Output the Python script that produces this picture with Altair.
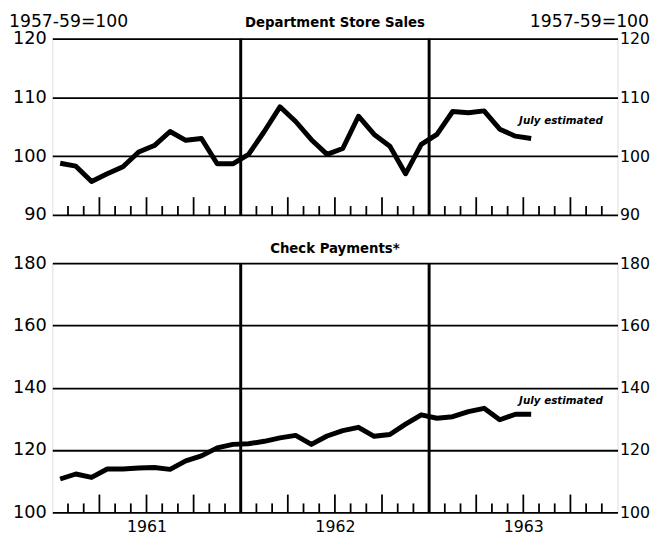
import altair as alt
import pandas as pd

# ---- data (monthly, Jan 1961 .. Jul 1963) ----
years = ["1961", "1962", "1963"]
dept_store = [98.8, 98.3, 95.7, 97.0, 98.2, 100.7, 101.8, 104.2, 102.7, 103.0, 98.7, 98.7,
              100.3, 104.2, 108.4, 105.9, 102.8, 100.3, 101.3, 106.8, 103.7, 101.7, 97.0, 102.0,
              103.7, 107.6, 107.4, 107.7, 104.6, 103.4, 103.0]
check_pay = [110.7, 112.3, 111.2, 113.9, 113.9, 114.2, 114.4, 113.8, 116.5, 118.1, 120.7, 121.8,
             122.0, 122.8, 123.9, 124.7, 121.8, 124.5, 126.2, 127.3, 124.4, 125.0, 128.3, 131.3,
             130.2, 130.7, 132.3, 133.4, 129.7, 131.5, 131.5]
top_ticks = [90, 100, 110, 120]
bottom_ticks = [100, 120, 140, 160, 180]
note_text = "July estimated"
note_top = (32.4, 105.9)
note_bottom = (32.4, 135.6)
base_label = "1957-59=100"
titles = ["Department Store Sales", "Check Payments*"]

FONT = "DejaVu Sans"
TITLE_FONT = "'DejaVu Sans Condensed', 'Liberation Sans Narrow', 'Roboto Condensed', 'Arial Narrow', 'DejaVu Sans', sans-serif"
W = 574

n_months = len(years) * 12
year_bounds = pd.DataFrame({"m": [12 * i for i in range(1, len(years))]})
small_ticks = pd.DataFrame({"m": [k for k in range(1, n_months) if k % 12 and k % 3]})
tall_ticks = pd.DataFrame({"m": [k for k in range(1, n_months) if k % 12 and k % 3 == 0]})
year_label_expr = " : ".join(
    f"datum.value == {12 * i + 6} ? '{y}'" for i, y in enumerate(years)
) + " : ''"

xscale = alt.Scale(domain=[0, n_months], nice=False, zero=False)


def panel(values, yticks, height, title, show_years, note, show_base, title_y):
    df = pd.DataFrame({"m": [i + 0.5 for i in range(len(values))], "v": values})
    yscale = alt.Scale(domain=[yticks[0], yticks[-1]], nice=False, zero=False)
    if show_years:
        xaxis = alt.Axis(values=[12 * i + 6 for i in range(len(years))], labelExpr=year_label_expr,
                         ticks=False, domain=False, grid=False, title=None, labelPadding=7,
                         labelFontSize=16, labelFont=FONT, labelColor="black", labelFlush=False)
    else:
        xaxis = None
    left_axis = alt.Axis(values=yticks, ticks=False, domain=False, grid=True, gridColor="black",
                         gridWidth=1.8, gridOpacity=1, labelPadding=6, labelFontSize=18,
                         labelFont=FONT, labelColor="black", title=None)
    right_axis = alt.Axis(orient="right", values=yticks, ticks=False, domain=False, grid=False,
                          labelPadding=2, labelFontSize=16, labelFont=FONT, labelColor="black",
                          title=None)

    line = alt.Chart(df).mark_line(color="black", strokeWidth=5, strokeJoin="round").encode(
        x=alt.X("m:Q", scale=xscale, axis=xaxis),
        y=alt.Y("v:Q", scale=yscale, axis=left_axis),
    )
    years_rule = alt.Chart(year_bounds).mark_rule(color="black", strokeWidth=3).encode(
        x=alt.X("m:Q", scale=xscale)
    )
    st = alt.Chart(small_ticks).mark_rule(color="black", strokeWidth=1.8).encode(
        x=alt.X("m:Q", scale=xscale), y=alt.value(height), y2=alt.value(height - 9)
    )
    tt = alt.Chart(tall_ticks).mark_rule(color="black", strokeWidth=1.8).encode(
        x=alt.X("m:Q", scale=xscale), y=alt.value(height), y2=alt.value(height - 18)
    )
    ndf = pd.DataFrame({"m": [note[0]], "v": [note[1]], "t": [note_text]})
    txt = alt.Chart(ndf).mark_text(font=FONT, fontSize=10.5, fontStyle="italic", fontWeight="bold",
                                   color="black").encode(
        x=alt.X("m:Q", scale=xscale),
        y=alt.Y("v:Q", scale=yscale, axis=right_axis),
        text="t:N",
    )
    ttl = alt.Chart(pd.DataFrame({"t": [title]})).mark_text(
        font=TITLE_FONT, fontSize=15, fontWeight="bold", color="black", baseline="middle"
    ).encode(x=alt.value(W / 2), y=alt.value(title_y), text="t:N")
    layers = [line, years_rule, st, tt, txt, ttl]
    if show_base:
        bdf = pd.DataFrame({"t": [base_label]})
        bl = alt.Chart(bdf).mark_text(font=FONT, fontSize=17.5, color="black", align="left",
                                      baseline="middle").encode(
            x=alt.value(-44), y=alt.value(title_y), text="t:N")
        br = alt.Chart(bdf).mark_text(font=FONT, fontSize=17.5, color="black", align="right",
                                      baseline="middle").encode(
            x=alt.value(W + 32), y=alt.value(title_y), text="t:N")
        layers += [bl, br]
    return alt.layer(*layers).resolve_axis(y="independent").properties(width=W, height=height)


top = panel(dept_store, top_ticks, 179, titles[0], False, note_top, True, -17)
bottom = panel(check_pay, bottom_ticks, 253, titles[1], True, note_bottom, False, -15)

chart = alt.vconcat(top, bottom, spacing=16).properties(padding=0).configure_view(
    stroke="black", strokeWidth=2.5
).configure(background="white")

chart.save("out.html", embed_options={"renderer": "svg", "actions": False})
